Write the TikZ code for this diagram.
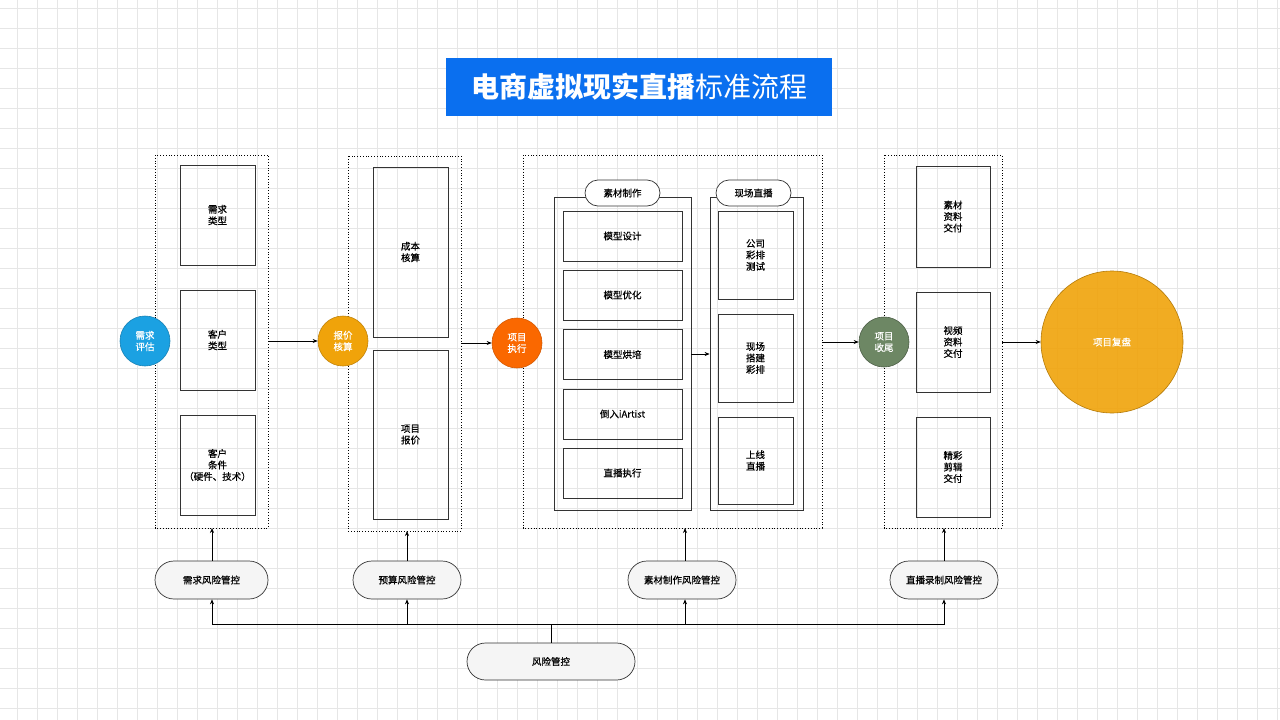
\documentclass[tikz,border=0pt]{standalone}
\usepackage{fontspec}
\setmainfont{Noto Sans CJK SC}
\newfontfamily\fb{Noto Sans CJK SC}[FakeBold=0.6]
\usetikzlibrary{arrows.meta,shapes.misc}
\definecolor{ttl}{HTML}{0A6FEF}
\definecolor{cb}{HTML}{1BA1E2}
\definecolor{cy}{HTML}{F0A30A}
\definecolor{co}{HTML}{FA6800}
\definecolor{cg}{HTML}{6D8764}
\definecolor{gridc}{HTML}{E6E6E6}
\begin{document}
\begin{tikzpicture}[x=1pt,y=-1pt,
  box/.style={draw=black!80,line width=0.8pt,fill=none,align=center,font=\fb\fontsize{9.5}{11.5}\selectfont},
  cont/.style={draw=black,dotted,line width=0.8pt},
  circ/.style={circle,draw,line width=0.6pt,text=white,align=center,font=\fb\fontsize{9.5}{11.5}\selectfont,inner sep=0pt},
  pill/.style={rounded rectangle,draw=black!80,fill=black!4,line width=0.7pt,font=\fb\fontsize{9.5}{11.5}\selectfont,inner sep=0pt},
  lpill/.style={rounded rectangle,draw=black!80,fill=white,line width=0.7pt,font=\fb\fontsize{9.5}{11.5}\selectfont,inner sep=0pt,minimum width=75pt,minimum height=26pt},
  arr/.style={-{Stealth[length=5pt,width=4pt]},line width=0.6pt}]
\useasboundingbox (0,0) rectangle (1280,720);
\fill[white] (0,0) rectangle (1280,720);
\foreach \i in {0,...,64}{\draw[gridc,line width=0.5pt] (\i*20-3,0) -- (\i*20-3,720);}
\foreach \j in {0,...,36}{\draw[gridc,line width=0.5pt] (0,\j*20+8) -- (1280,\j*20+8);}
% title
\node[fill=ttl,text=white,minimum width=386pt,minimum height=58pt,inner sep=0pt,font=\fontsize{28}{30}\selectfont] (title) at (639,87) {\textbf{电商虚拟现实直播}标准流程};
% containers
\draw[cont] (155,155) rectangle (268,528);
\draw[cont] (348,156) rectangle (461,531);
\draw[cont] (523,155) rectangle (822,528);
\draw[cont] (884,155) rectangle (1002,528);
\coordinate (c1r) at (268,341); \coordinate (c2r) at (461,343); \coordinate (c3r) at (822,342); \coordinate (c4r) at (1002,342);
\coordinate (c1b) at (212,528); \coordinate (c2b) at (407,531); \coordinate (c3b) at (685,528); \coordinate (c4b) at (944,528);
% col1
\node[box,minimum width=75pt,minimum height=100pt] (b11) at (217.5,215) {需求\\类型};
\node[box,minimum width=75pt,minimum height=100pt] (b12) at (217.5,340) {客户\\类型};
\node[box,minimum width=75pt,minimum height=100pt] (b13) at (217.5,465) {客户\\条件\\（硬件、技术）};
% col2
\node[box,minimum width=75pt,minimum height=170pt] (b21) at (410.5,252) {成本\\核算};
\node[box,minimum width=75pt,minimum height=169pt] (b22) at (410.5,434.5) {项目\\报价};
% col3 lanes
\node[draw=black!80,line width=0.8pt,minimum width=137pt,minimum height=313pt,inner sep=0pt] (laneA) at (622.5,353.5) {};
\node[draw=black!80,line width=0.8pt,minimum width=93pt,minimum height=313pt,inner sep=0pt] (laneB) at (756.5,353.5) {};
\node[lpill] (pA) at (622.5,193) {素材制作};
\node[lpill] (pB) at (753.5,193) {现场直播};
\foreach \n/\y/\t in {m1/236/模型设计,m2/295/模型优化,m3/354.5/模型烘培,m4/414/倒入iArtist,m5/473/直播执行}
  {\node[box,minimum width=119pt,minimum height=50pt] (\n) at (622.5,\y) {\t};}
\node[box,minimum width=75pt,minimum height=88pt] (l1) at (755.5,255) {公司\\彩排\\测试};
\node[box,minimum width=75pt,minimum height=88pt] (l2) at (755.5,358) {现场\\搭建\\彩排};
\node[box,minimum width=75pt,minimum height=87pt] (l3) at (755.5,460.5) {上线\\直播};
\draw[arr] (laneA.east |- 0,354) -- (laneB.west |- 0,354);
% col4
\node[box,minimum width=74pt,minimum height=101pt] (b41) at (953,216.5) {素材\\资料\\交付};
\node[box,minimum width=74pt,minimum height=100pt] (b42) at (953,342) {视频\\资料\\交付};
\node[box,minimum width=74pt,minimum height=100pt] (b43) at (953,467) {精彩\\剪辑\\交付};
% circles
\node[circ,fill=cb,draw=cb!80!black,minimum size=50pt] (k1) at (145,341) {需求\\评估};
\node[circ,fill=cy,draw=cy!80!black,minimum size=50pt] (k2) at (343,341) {报价\\核算};
\node[circ,fill=co,draw=co!85!black,minimum size=50pt] (k3) at (517,343) {项目\\执行};
\node[circ,fill=cg,draw=cg!70!black,minimum size=50pt] (k4) at (884,342) {项目\\收尾};
\node[circ,fill=cy,fill opacity=0.9,text opacity=1,draw=cy!75!black,minimum size=142pt] (k5) at (1112,342) {项目复盘};
\draw[arr] (c1r) -- (k2);
\draw[arr] (c2r) -- (k3);
\draw[arr] (c3r) -- (k4);
\draw[arr] (c4r) -- (k5);
% risk pills
\node[pill,minimum width=113pt,minimum height=38pt] (r1) at (211.5,580) {需求风险管控};
\node[pill,minimum width=108pt,minimum height=38pt] (r2) at (407,580) {预算风险管控};
\node[pill,minimum width=108pt,minimum height=38pt] (r3) at (682,580) {素材制作风险管控};
\node[pill,minimum width=108pt,minimum height=38pt] (r4) at (944,580) {直播录制风险管控};
\node[pill,minimum width=168pt,minimum height=37pt] (r0) at (551,661.5) {风险管控};
\draw[arr] (r1.north -| c1b) -- (c1b);
\draw[arr] (r2.north -| c2b) -- (c2b);
\draw[arr] (r3.north -| c3b) -- (c3b);
\draw[arr] (r4.north -| c4b) -- (c4b);
\coordinate (bus) at (551,624);
\draw[line width=0.6pt] (r0.north) -- (bus);
\draw[arr] (bus) -| (r1.south -| c1b);
\draw[arr] (bus) -| (r2.south -| c2b);
\draw[arr] (bus) -| (r3.south -| c3b);
\draw[arr] (bus) -| (r4.south -| c4b);
\end{tikzpicture}
\end{document}
